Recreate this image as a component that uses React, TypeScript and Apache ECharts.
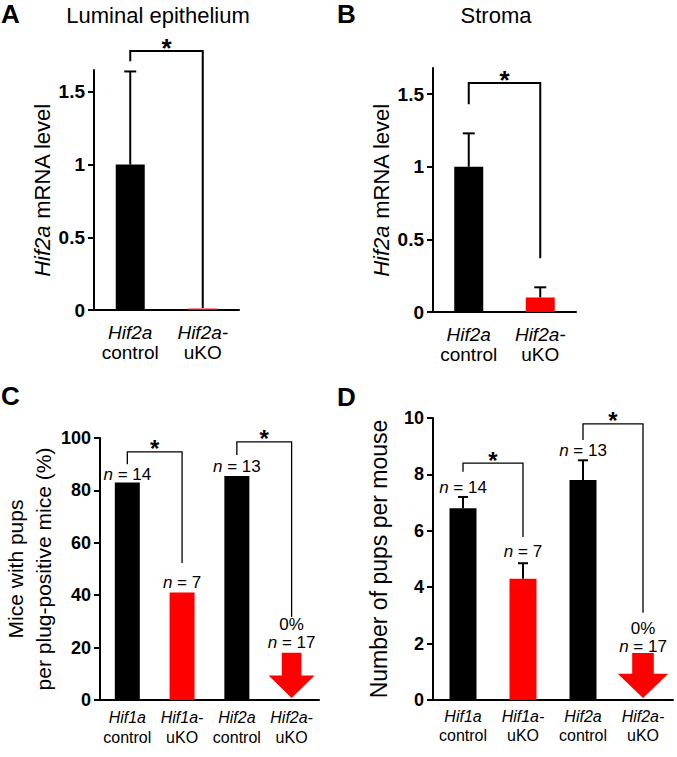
import React, { useEffect, useRef } from "react";
import * as echarts from "echarts";

const FONT = '"Liberation Sans", Arial, Helvetica, sans-serif';
const RED = "#ff0000";
const BLACK = "#000000";

// ---- Panel A / B data ----
const catsAB = ["Hif2a|control", "Hif2a-|uKO"];
const ticksAB = [0, 0.5, 1, 1.5];
const meanA = [1.0, 0.01];
const errTopA = [1.64, null];
const meanB = [1.0, 0.1];
const errTopB = [1.23, 0.17];
// [leftCat, rightCat, top, leftLegBottom, rightLegBottom]
const bracketsA = [[0, 1, 1.78, 1.71, 0.014]];
const bracketsB = [[0, 1, 1.576, 1.43, 0.37]];

// ---- Panel C / D data ----
const catsCD = ["Hif1a|control", "Hif1a-|uKO", "Hif2a|control", "Hif2a-|uKO"];
const meanC = [83, 41, 85.5, null];
const meanD = [6.8, 4.3, 7.8, null];
const errTopD = [7.2, 4.85, 8.5, null];
const arrowC = [[3, 18]];
const arrowD = [[3, 1.67]];
const bracketsC = [
  [0, 1, 94.7, 90, 52.3],
  [2, 3, 98.5, 93.5, 31.7],
];
const bracketsD = [
  [0, 1, 8.4, 8.09, 5.78],
  [2, 3, 9.79, 9.22, 3.09],
];
const nCounts = [14, 7, 13, 17];
const nPosC = [[0, 85.9], [1, 45], [2, 89.3], [3, 21.8]];
const nPosD = [[0, 7.52], [1, 5.25], [2, 8.83], [3, 1.88]];
const zeroPctC = [[3, 29]];
const zeroPctD = [[3, 2.52]];

const barColorsAB = [BLACK, RED];
const barColorsCD = [BLACK, RED, BLACK, RED];

function xAxisCfg(gridIndex: number, cats: string[], fontSize: number, margin: number, lh: number) {
  return {
    type: "category",
    gridIndex,
    data: cats,
    axisLine: { show: true, lineStyle: { color: BLACK, width: 2 } },
    axisTick: { show: false },
    axisLabel: {
      margin,
      interval: 0,
      formatter: (v: string) => {
        const [a, b] = v.split("|");
        return `{i|${a}}\n{r|${b}}`;
      },
      rich: {
        i: { fontStyle: "italic", fontSize, fontFamily: FONT, color: BLACK, lineHeight: lh },
        r: { fontSize, fontFamily: FONT, color: BLACK, lineHeight: lh },
      },
    },
  };
}

function yAxisCfg(
  gridIndex: number,
  max: number,
  interval: number,
  fontSize: number,
  name: string,
  nameGap: number,
  nameSize: number,
  nameLH: number,
  custom?: number[]
) {
  const axisLabel: any = {
    margin: 9,
    color: BLACK,
    fontWeight: "bold",
    fontSize,
    fontFamily: FONT,
  };
  const axisTick: any = { show: true, length: 6, lineStyle: { color: BLACK, width: 2 } };
  if (custom) {
    axisLabel.customValues = custom;
    axisTick.customValues = custom;
  }
  return {
    type: "value",
    gridIndex,
    min: 0,
    max,
    interval,
    splitLine: { show: false },
    axisLine: { show: true, lineStyle: { color: BLACK, width: 2 } },
    axisTick,
    axisLabel,
    name,
    nameLocation: "middle",
    nameGap,
    nameTextStyle: {
      fontSize: nameSize,
      fontFamily: FONT,
      color: BLACK,
      lineHeight: nameLH,
      rich: {
        i: { fontStyle: "italic", fontSize: nameSize, fontFamily: FONT, color: BLACK, lineHeight: nameLH },
      },
    },
  };
}

function barSeries(idx: number, values: (number | null)[], colors: string[], barWidth: number) {
  return {
    type: "bar",
    xAxisIndex: idx,
    yAxisIndex: idx,
    barWidth,
    data: values.map((v, i) =>
      v === null ? "-" : { value: v, itemStyle: { color: colors[i] } }
    ),
  };
}

function errorSeries(idx: number, means: (number | null)[], tops: (number | null)[], cap: number, lw: number) {
  const data: number[][] = [];
  means.forEach((m, i) => {
    const t = tops[i];
    if (m !== null && t !== null && t !== undefined) data.push([i, m, t]);
  });
  return {
    type: "custom",
    xAxisIndex: idx,
    yAxisIndex: idx,
    data,
    renderItem: (_p: any, api: any) => {
      const x = api.value(0);
      const p0 = api.coord([x, api.value(1)]);
      const p1 = api.coord([x, api.value(2)]);
      return {
        type: "group",
        children: [
          { type: "line", shape: { x1: p0[0], y1: p0[1], x2: p1[0], y2: p1[1] }, style: { stroke: BLACK, lineWidth: lw } },
          { type: "line", shape: { x1: p1[0] - cap / 2, y1: p1[1], x2: p1[0] + cap / 2, y2: p1[1] }, style: { stroke: BLACK, lineWidth: lw } },
        ],
      };
    },
  };
}

function bracketSeries(idx: number, brackets: number[][], lw: number, starSize: number) {
  return {
    type: "custom",
    xAxisIndex: idx,
    yAxisIndex: idx,
    data: brackets,
    renderItem: (_p: any, api: any) => {
      const a = api.coord([api.value(0), api.value(2)]);
      const b = api.coord([api.value(1), api.value(2)]);
      const la = api.coord([api.value(0), api.value(3)]);
      const rb = api.coord([api.value(1), api.value(4)]);
      return {
        type: "group",
        children: [
          {
            type: "polyline",
            shape: { points: [[la[0], la[1]], [a[0], a[1]], [b[0], b[1]], [rb[0], rb[1]]] },
            style: { stroke: BLACK, lineWidth: lw, fill: "none" },
          },
          {
            type: "text",
            x: (a[0] + b[0]) / 2,
            y: a[1] - 3,
            style: {
              text: "*",
              fontSize: starSize,
              fontWeight: "bold",
              fontFamily: FONT,
              fill: BLACK,
              align: "center",
              verticalAlign: "middle",
            },
          },
        ],
      };
    },
  };
}

function arrowSeries(idx: number, arrows: number[][], headFrac: number) {
  return {
    type: "custom",
    xAxisIndex: idx,
    yAxisIndex: idx,
    data: arrows,
    renderItem: (_p: any, api: any) => {
      const top = api.coord([api.value(0), api.value(1)]);
      const base = api.coord([api.value(0), 0]);
      const band = api.size([1, 0])[0];
      const cx = top[0];
      const h = base[1] - top[1];
      const sh = base[1] - h * headFrac;
      const sw = band * 0.18;
      const hw = band * 0.42;
      return {
        type: "polygon",
        shape: {
          points: [
            [cx - sw, top[1]],
            [cx + sw, top[1]],
            [cx + sw, sh],
            [cx + hw, sh],
            [cx, base[1] - 2],
            [cx - hw, sh],
            [cx - sw, sh],
          ],
        },
        style: { fill: RED },
      };
    },
  };
}

function textSeries(idx: number, pos: number[][], texts: string[], fontSize: number) {
  return {
    type: "custom",
    xAxisIndex: idx,
    yAxisIndex: idx,
    data: pos.map((p, i) => [p[0], p[1], i]),
    renderItem: (_p: any, api: any) => {
      const pt = api.coord([api.value(0), api.value(1)]);
      return {
        type: "text",
        x: pt[0],
        y: pt[1],
        style: {
          text: texts[api.value(2)],
          fontSize,
          fontFamily: FONT,
          fill: BLACK,
          align: "center",
          verticalAlign: "middle",
          rich: {
            i: { fontStyle: "italic", fontSize, fontFamily: FONT, fill: BLACK },
          },
        },
      };
    },
  };
}

function panelText(x: number, y: number, text: string, size: number, bold: boolean, align = "left") {
  return {
    type: "text",
    x,
    y,
    style: {
      text,
      fontSize: size,
      fontWeight: bold ? "bold" : "normal",
      fontFamily: FONT,
      fill: BLACK,
      align,
      verticalAlign: "middle",
    },
  };
}

export default function App() {
  const ref = useRef<HTMLDivElement>(null);
  useEffect(() => {
    document.body.style.margin = "0";
    if (!ref.current) return;
    const chart = echarts.init(ref.current, undefined, { renderer: "svg" });
    const nLabels = nCounts.map((n) => `{i|n} = ${n}`);
    chart.setOption({
      animation: false,
      backgroundColor: "#ffffff",
      grid: [
        { left: 94, top: 70, width: 145, height: 240 },
        { left: 433, top: 68, width: 143, height: 244 },
        { left: 95, top: 438, width: 224, height: 262 },
        { left: 433, top: 418, width: 240, height: 282 },
      ],
      xAxis: [
        xAxisCfg(0, catsAB, 19, 12, 20),
        xAxisCfg(1, catsAB, 19, 12, 20),
        xAxisCfg(2, catsCD, 16, 7, 20),
        xAxisCfg(3, catsCD, 16, 7, 19),
      ],
      yAxis: [
        yAxisCfg(0, 1.65, 0.5, 19, "{i|Hif2a} mRNA level", 35, 22, 24, ticksAB),
        yAxisCfg(1, 1.68, 0.5, 19, "{i|Hif2a} mRNA level", 39, 22, 24, ticksAB),
        yAxisCfg(2, 100, 20, 18, "Mice with pups\nper plug-positive mice (%)", 33, 21, 28),
        yAxisCfg(3, 10, 2, 18, "Number of pups per mouse", 42, 23, 24),
      ],
      series: [
        barSeries(0, meanA, barColorsAB, 29),
        errorSeries(0, meanA, errTopA, 12, 2),
        bracketSeries(0, bracketsA, 2, 26),
        barSeries(1, meanB, barColorsAB, 29),
        errorSeries(1, meanB, errTopB, 12, 2),
        bracketSeries(1, bracketsB, 2, 26),
        barSeries(2, meanC, barColorsCD, 25),
        arrowSeries(2, arrowC, 0.52),
        bracketSeries(2, bracketsC, 1.3, 24),
        textSeries(2, nPosC, nLabels, 17),
        textSeries(2, zeroPctC, ["0%"], 17),
        barSeries(3, meanD, barColorsCD, 27),
        errorSeries(3, meanD, errTopD, 10, 2),
        arrowSeries(3, arrowD, 0.56),
        bracketSeries(3, bracketsD, 1.3, 24),
        textSeries(3, nPosD, nLabels, 17),
        textSeries(3, zeroPctD, ["0%"], 17),
      ],
      graphic: [
        panelText(1, 14, "A", 26, true),
        panelText(158, 15, "Luminal epithelium", 22, false, "center"),
        panelText(337, 14, "B", 26, true),
        panelText(496, 15, "Stroma", 22, false, "center"),
        panelText(1, 396, "C", 26, true),
        panelText(337, 397, "D", 26, true),
      ],
    });
    return () => chart.dispose();
  }, []);
  return <div ref={ref} style={{ width: 677, height: 757 }} />;
}
